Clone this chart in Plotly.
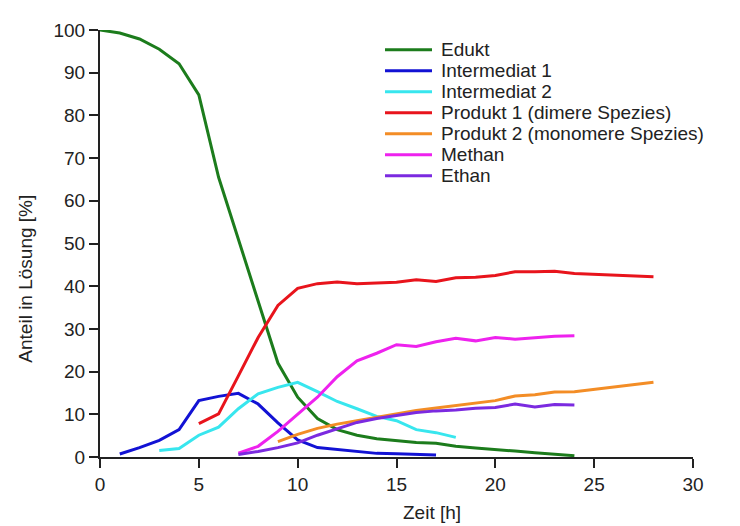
import plotly.graph_objects as go

# ---- data ----
edukt_x = list(range(0, 25))
edukt_y = [100, 99.3, 97.9, 95.5, 92.1, 84.8, 65.5, 51, 37, 22, 14, 9, 6.4, 5.1, 4.3,
           3.9, 3.4, 3.2, 2.5, 2.1, 1.8, 1.4, 1.0, 0.7, 0.3]

inter1_x = list(range(1, 18))
inter1_y = [0.7, 2.2, 3.9, 6.4, 13.2, 14.2, 14.9, 12.4, 8.0, 4.0, 2.2, 1.8, 1.4, 0.85,
            0.75, 0.6, 0.45]

inter2_x = list(range(3, 19))
inter2_y = [1.5, 2.0, 5.1, 7.0, 11.3, 14.8, 16.3, 17.5, 15.3, 13.0, 11.3, 9.5, 8.5,
            6.4, 5.7, 4.6]

prod1_x = list(range(5, 25)) + [28]
prod1_y = [7.8, 10.1, 19, 28, 35.5, 39.5, 40.6, 41.0, 40.6, 40.7, 40.9, 41.5, 41.1,
           42.0, 42.1, 42.5, 43.4, 43.4, 43.5, 43.0, 42.2]

prod2_x = list(range(9, 25)) + [28]
prod2_y = [3.6, 5.3, 6.7, 7.7, 8.5, 9.3, 10.1, 10.9, 11.5, 12.1, 12.7, 13.2, 14.3,
           14.6, 15.2, 15.3, 17.5]

methan_x = list(range(7, 25))
methan_y = [0.9, 2.5, 6.0, 10.1, 14.0, 18.8, 22.5, 24.3, 26.3, 25.9, 27.0, 27.8,
            27.2, 28.0, 27.6, 27.9, 28.3, 28.4]

ethan_x = list(range(7, 25))
ethan_y = [0.6, 1.3, 2.2, 3.3, 5.1, 6.6, 8.1, 9.0, 9.7, 10.4, 10.8, 11.0, 11.4,
           11.6, 12.4, 11.7, 12.3, 12.2]

series_names = ["Edukt", "Intermediat 1", "Intermediat 2", "Produkt 1 (dimere Spezies)",
                "Produkt 2 (monomere Spezies)", "Methan", "Ethan"]
series_x = [edukt_x, inter1_x, inter2_x, prod1_x, prod2_x, methan_x, ethan_x]
series_y = [edukt_y, inter1_y, inter2_y, prod1_y, prod2_y, methan_y, ethan_y]
series_colors = ["#1c7c1c", "#1212d4", "#38e6ee", "#e8141c", "#f38d26", "#ee22ee", "#7b2ae0"]

x_ticks = [0, 5, 10, 15, 20, 25, 30]
y_ticks = [0, 10, 20, 30, 40, 50, 60, 70, 80, 90, 100]

FONT = "Liberation Sans, Arial, sans-serif"
TXT = "#222"

# layout geometry (page body has an 8px margin)
W, H = 732, 518
ML, MR, MT, MB = 92, 47, 18, 69
PW, PH = W - ML - MR, H - MT - MB

def px_x(p):  # figure pixel -> paper x
    return (p - ML) / PW

def px_y(p):  # figure pixel -> paper y
    return 1 - (p - MT) / PH

fig = go.Figure()
for name, xs, ys, col in zip(series_names, series_x, series_y, series_colors):
    fig.add_trace(go.Scatter(x=xs, y=ys, mode="lines", name=name, showlegend=False,
                             line=dict(color=col, width=3), cliponaxis=False))

axis_common = dict(showline=True, linewidth=2, linecolor=TXT, ticks="outside",
                   ticklen=9, tickwidth=2, tickcolor=TXT, showgrid=False,
                   zeroline=False, tickfont=dict(family=FONT, size=19, color=TXT))

# manual legend (line sample + text), matching the reference's compact rows
shapes = []
annotations = []
row0, row_gap = 38.0, 21.2
for i, (name, col) in enumerate(zip(series_names, series_colors)):
    yc = px_y(row0 + i * row_gap)
    shapes.append(dict(type="line", xref="paper", yref="paper",
                       x0=px_x(377), x1=px_x(424), y0=yc, y1=yc,
                       line=dict(color=col, width=3)))
    annotations.append(dict(text=name, xref="paper", yref="paper", x=px_x(431), y=yc,
                            xanchor="left", yanchor="middle", showarrow=False,
                            font=dict(family=FONT, size=19, color=TXT)))

annotations += [
    dict(text="Zeit [h]", xref="paper", yref="paper", x=px_x(424), y=px_y(505),
         xanchor="center", yanchor="middle", showarrow=False,
         font=dict(family=FONT, size=19, color=TXT)),
    dict(text="Anteil in Lösung [%]", xref="paper", yref="paper", x=px_x(18),
         y=px_y(269), xanchor="center", yanchor="middle", textangle=-90,
         showarrow=False, font=dict(family=FONT, size=19, color=TXT)),
]

fig.update_layout(
    width=W, height=H,
    margin=dict(l=ML, r=MR, t=MT, b=MB),
    paper_bgcolor="white", plot_bgcolor="white",
    font=dict(family=FONT, color=TXT),
    xaxis=dict(range=[0, 30], tickvals=x_ticks, **axis_common),
    yaxis=dict(range=[0, 100], tickvals=y_ticks, **axis_common),
    showlegend=False,
    shapes=shapes,
    annotations=annotations,
)

fig.write_html("out.html")
